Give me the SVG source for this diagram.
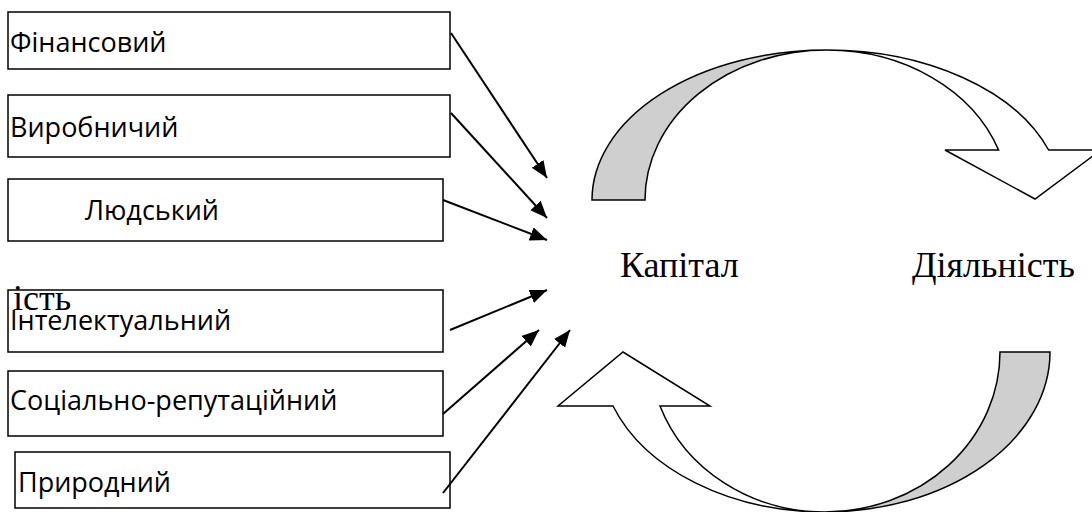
<svg xmlns="http://www.w3.org/2000/svg" width="1092" height="512" viewBox="0 0 1092 512">
<style>
.box{fill:#fff;stroke:#000;stroke-width:1.5}
.lbl{font-family:"Open Sans","Liberation Sans",sans-serif;font-size:27px;fill:#000}
.ser{font-family:"Liberation Serif","Times New Roman",serif;font-size:36px;fill:#000}
.con{stroke:#000;stroke-width:2;fill:none;marker-end:url(#ah)}
.back{fill:#cfcfcf;stroke:#000;stroke-width:1.5}
.front{fill:#fff;stroke:#000;stroke-width:1.5}
</style>
<defs>
<marker id="ah" markerUnits="userSpaceOnUse" markerWidth="20" markerHeight="16" refX="17" refY="7" orient="auto">
<path d="M0,0 L17,7 L0,14 Z" fill="#000"/>
</marker>
</defs>
<rect width="1092" height="512" fill="#fff"/>
<g id="finansovyi"><rect class="box" x="8" y="12" width="442" height="57"/><text class="lbl" x="10" y="52">Фінансовий</text></g>
<g id="vyrobnychyi"><rect class="box" x="8" y="95" width="442" height="62"/><text class="lbl" x="10" y="137">Виробничий</text></g>
<g id="liudskyi"><rect class="box" x="8" y="179" width="435" height="62"/><text class="lbl" x="85" y="220">Людський</text></g>
<g id="intelektualnyi"><rect class="box" x="8" y="290" width="435" height="62"/><text class="lbl" x="10" y="330">Інтелектуальний</text><text class="ser" x="13" y="310" font-size="33">ість</text></g>
<g id="sotsialno"><rect class="box" x="8" y="371" width="435" height="65"/><text class="lbl" x="10" y="410">Соціально-репутаційний</text></g>
<g id="pryrodnyi"><rect class="box" x="15" y="452" width="435" height="56"/><text class="lbl" x="18" y="492">Природний</text></g>
<g id="connectors">
<line class="con" x1="451" y1="33" x2="547" y2="178"/>
<line class="con" x1="451" y1="113" x2="547" y2="218"/>
<line class="con" x1="443" y1="200" x2="547" y2="240"/>
<line class="con" x1="450" y1="330" x2="547" y2="290"/>
<line class="con" x1="443" y1="414" x2="539" y2="330"/>
<line class="con" x1="443" y1="493" x2="570" y2="330"/>
</g>
<g id="top-arrow">
<path class="back" d="M592,200 A235,150 0 0 1 827,50 A182,150 0 0 0 645,200 Z"/>
<path class="front" d="M827,50 A235,150 0 0 1 1048.6,150 L1101,150 L1035,199 L945,150 L998.6,150 A182,150 0 0 0 827,50 Z"/>
</g>
<g id="bottom-arrow">
<path class="back" d="M1050,352 A225,160 0 0 1 825,512 A175,160 0 0 0 1000,352 Z"/>
<path class="front" d="M825,512 A225,160 0 0 1 613,406 L558,406 L623,352 L710,406 L660,406 A175,160 0 0 0 825,512 Z"/>
</g>
<g id="kapital"><text class="ser" x="620" y="277">Капітал</text></g>
<g id="diialnist"><text class="ser" x="912" y="277">Діяльність</text></g>
</svg>
